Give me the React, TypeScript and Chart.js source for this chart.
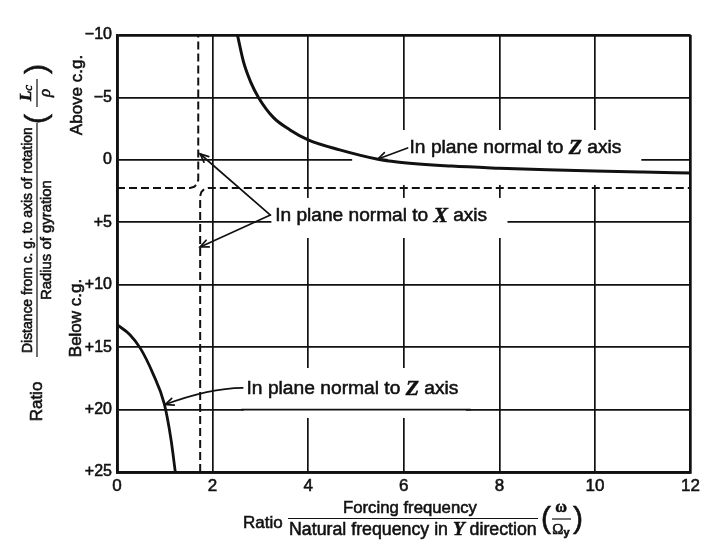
import React, { useEffect, useRef } from "react";
import { Chart, registerables } from "chart.js";

Chart.register(...registerables);

// ---------- data ----------
const xTicks = [0, 2, 4, 6, 8, 10, 12];
const yTicks = [-10, -5, 0, 5, 10, 15, 20, 25];
const yTickLabels = ["\u221210", "\u22125", "0", "+5", "+10", "+15", "+20", "+25"];

// In plane normal to Z axis (upper branch)
const zUpperX = [2.52, 2.65, 2.8, 2.96, 3.27, 3.62, 4.0, 4.66, 5.46, 5.86, 7.0, 8.0, 9.0, 10.0, 11.0, 12.0];
const zUpperY = [-10, -7.8, -6.2, -5.0, -3.4, -2.4, -1.6, -0.8, -0.05, 0.17, 0.5, 0.67, 0.8, 0.9, 0.98, 1.05];

// In plane normal to Z axis (lower branch)
const zLowerX = [0, 0.27, 0.49, 0.75, 0.99, 1.13, 1.22];
const zLowerY = [13.2, 14.0, 15.1, 17.1, 19.55, 22.4, 25];

// In plane normal to X axis (dashed, two branches)
const xLeftX = [0, 1.53, 1.615, 1.677, 1.7, 1.7];
const xLeftY = [2.25, 2.25, 2.16, 1.93, 1.6, -10];
const xRightX = [1.74, 1.74, 1.765, 1.825, 1.91, 12];
const xRightY = [25, 2.9, 2.575, 2.337, 2.25, 2.25];

// ---------- styling helpers ----------
const FONT = "'Liberation Sans', Arial, sans-serif";
const SERIF = "'Liberation Serif', 'Times New Roman', serif";
const INK = "#111";
const HEAVY = 0.55;

type Part = { t: string; size: number; style?: string; family?: string; dy?: number };

function fontOf(p: Part, s: number) {
  return `${p.style || ""} ${p.size * s}px ${p.family || FONT}`.trim();
}
function richWidth(ctx: CanvasRenderingContext2D, parts: Part[], s: number) {
  let w = 0;
  for (const p of parts) {
    ctx.font = fontOf(p, s);
    w += ctx.measureText(p.t).width;
  }
  return w;
}
function drawRich(
  ctx: CanvasRenderingContext2D,
  parts: Part[],
  x: number,
  y: number,
  target: number | null,
  align: "left" | "center" = "left"
) {
  const w0 = richWidth(ctx, parts, 1);
  const s = target ? target / w0 : 1;
  let cx = align === "center" ? x - (w0 * s) / 2 : x;
  ctx.textBaseline = "middle";
  ctx.textAlign = "left";
  ctx.lineWidth = HEAVY;
  for (const p of parts) {
    ctx.font = fontOf(p, s);
    ctx.fillText(p.t, cx, y + (p.dy || 0) * s);
    ctx.strokeText(p.t, cx, y + (p.dy || 0) * s);
    cx += ctx.measureText(p.t).width;
  }
}
function line(ctx: CanvasRenderingContext2D, x0: number, y0: number, x1: number, y1: number, w: number) {
  ctx.beginPath();
  ctx.lineWidth = w;
  ctx.moveTo(x0, y0);
  ctx.lineTo(x1, y1);
  ctx.stroke();
}
function arrow(
  ctx: CanvasRenderingContext2D,
  from: [number, number],
  to: [number, number],
  ctrl: [number, number] | null,
  w: number
) {
  ctx.beginPath();
  ctx.lineWidth = w;
  ctx.moveTo(from[0], from[1]);
  if (ctrl) ctx.quadraticCurveTo(ctrl[0], ctrl[1], to[0], to[1]);
  else ctx.lineTo(to[0], to[1]);
  ctx.stroke();
  const src = ctrl || from;
  const a = Math.atan2(to[1] - src[1], to[0] - src[0]);
  const L = 9;
  const sp = 0.42;
  ctx.beginPath();
  ctx.moveTo(to[0] - L * Math.cos(a - sp), to[1] - L * Math.sin(a - sp));
  ctx.lineTo(to[0], to[1]);
  ctx.lineTo(to[0] - L * Math.cos(a + sp), to[1] - L * Math.sin(a + sp));
  ctx.stroke();
}

const pts = (xs: number[], ys: number[]) => xs.map((x, i) => ({ x, y: ys[i] }));

const labelParts = (axis: string): Part[] => [
  { t: "In plane normal to ", size: 16 },
  { t: axis, size: 18, style: "italic bold", family: SERIF },
  { t: " axis", size: 16 },
];

const annotPlugin = {
  id: "annot",
  beforeDatasetsDraw(chart: any) {
    const { ctx } = chart;
    const sx = chart.scales.x;
    const sy = chart.scales.y;
    const box = (x0: number, x1: number, y0: number, y1: number) => {
      const a = sx.getPixelForValue(x0);
      const b = sx.getPixelForValue(x1);
      const c = sy.getPixelForValue(y0);
      const d = sy.getPixelForValue(y1);
      ctx.fillRect(Math.min(a, b), Math.min(c, d), Math.abs(b - a), Math.abs(d - c));
    };
    ctx.save();
    ctx.fillStyle = "#fff";
    box(4.92, 10.97, -2.39, 2.01);
    box(3.23, 8.17, 3.05, 6.26);
    box(2.65, 7.3, 16.67, 20.67);
    ctx.strokeStyle = INK;
    const y20 = sy.getPixelForValue(20);
    line(ctx, sx.getPixelForValue(2.6), y20, sx.getPixelForValue(7.4), y20, 1.7);
    ctx.restore();
  },
  afterDatasetsDraw(chart: any) {
    const { ctx } = chart;
    const sx = chart.scales.x;
    const sy = chart.scales.y;
    const P = (x: number, y: number): [number, number] => [sx.getPixelForValue(x), sy.getPixelForValue(y)];
    ctx.save();
    ctx.fillStyle = INK;
    ctx.strokeStyle = INK;
    ctx.lineCap = "round";
    // upper Z label
    arrow(ctx, P(6.08, -0.95), P(5.46, -0.07), null, 1.7);
    let p = P(6.12, -0.95);
    drawRich(ctx, labelParts("Z"), p[0], p[1], 212);
    // X label
    arrow(ctx, P(3.21, 4.42), P(1.74, -0.47), null, 1.7);
    arrow(ctx, P(3.21, 4.42), P(1.74, 6.98), null, 1.7);
    p = P(3.31, 4.5);
    drawRich(ctx, labelParts("X"), p[0], p[1], 212);
    // lower Z label
    arrow(ctx, P(2.63, 18.27), P(1.01, 19.6), P(1.93, 18.3), 1.7);
    p = P(2.71, 18.35);
    drawRich(ctx, labelParts("Z"), p[0], p[1], 212);
    ctx.restore();
  },
  afterDraw(chart: any) {
    const { ctx } = chart;
    ctx.save();
    ctx.fillStyle = INK;
    ctx.strokeStyle = INK;
    // ----- Y axis title (rotated) -----
    ctx.save();
    ctx.translate(37, 240);
    ctx.rotate(-Math.PI / 2);
    drawRich(ctx, [{ t: "Ratio", size: 17 }], -161.5, 0, null, "center");
    line(ctx, -117, 0, 117, 0, 1.2);
    drawRich(ctx, [{ t: "Distance from c. g. to axis of rotation", size: 13 }], 0, -9, 226, "center");
    drawRich(ctx, [{ t: "Radius of gyration", size: 13 }], 0, 10, 120, "center");
    // (Lc / rho)
    drawRich(ctx, [{ t: "(", size: 30 }], 116, 1, null, "left");
    drawRich(
      ctx,
      [
        { t: "L", size: 17, style: "italic bold", family: SERIF },
        { t: "c", size: 13, style: "italic", family: SERIF, dy: 2 },
      ],
      147,
      -10,
      null,
      "center"
    );
    line(ctx, 133, 0, 161, 0, 1.2);
    drawRich(ctx, [{ t: "\u03c1", size: 17, style: "italic", family: SERIF }], 147, 9, null, "center");
    drawRich(ctx, [{ t: ")", size: 30 }], 166, 1, null, "left");
    ctx.restore();
    // Above / Below c.g.
    ctx.save();
    ctx.translate(77, 95);
    ctx.rotate(-Math.PI / 2);
    drawRich(ctx, [{ t: "Above c.g.", size: 17 }], 0, 0, null, "center");
    ctx.restore();
    ctx.save();
    ctx.translate(76, 318);
    ctx.rotate(-Math.PI / 2);
    drawRich(ctx, [{ t: "Below c.g.", size: 17 }], 0, 0, null, "center");
    ctx.restore();
    // ----- X axis title -----
    drawRich(ctx, [{ t: "Ratio", size: 17 }], 243, 523, null, "left");
    line(ctx, 288, 518.5, 538, 518.5, 1.2);
    drawRich(ctx, [{ t: "Forcing frequency", size: 13 }], 410, 508, 134, "center");
    drawRich(
      ctx,
      [
        { t: "Natural frequency in ", size: 13 },
        { t: "Y", size: 14, style: "italic bold", family: SERIF },
        { t: " direction", size: 13 },
      ],
      413,
      530,
      248,
      "center"
    );
    drawRich(ctx, [{ t: "(", size: 30 }], 541, 520, null, "left");
    drawRich(ctx, [{ t: "\u03c9", size: 16, style: "bold", family: SERIF }], 561, 508, null, "center");
    line(ctx, 552, 519, 571, 519, 1.2);
    drawRich(
      ctx,
      [
        { t: "\u03a9", size: 15, family: SERIF },
        { t: "y", size: 11, style: "bold", dy: 3 },
      ],
      561,
      530,
      null,
      "center"
    );
    drawRich(ctx, [{ t: ")", size: 30 }], 573, 520, null, "left");
    ctx.restore();
  },
};

const edgeWidth = (edges: number[]) => (c: any) =>
  c.tick && edges.includes(c.tick.value) ? 2.7 : 1.7;

export default function App() {
  const ref = useRef<HTMLCanvasElement>(null);
  useEffect(() => {
    const canvas = ref.current!;
    const chart = new Chart(canvas, {
      type: "scatter",
      data: {
        datasets: [
          {
            data: pts(zUpperX, zUpperY),
            showLine: true,
            borderColor: INK,
            borderWidth: 3,
            pointRadius: 0,
            cubicInterpolationMode: "monotone",
          },
          {
            data: pts(zLowerX, zLowerY),
            showLine: true,
            borderColor: INK,
            borderWidth: 2.8,
            pointRadius: 0,
            cubicInterpolationMode: "monotone",
          },
          {
            data: pts(xLeftX, xLeftY),
            showLine: true,
            borderColor: INK,
            borderWidth: 2,
            borderDash: [8, 4],
            pointRadius: 0,
            tension: 0,
          },
          {
            data: pts(xRightX, xRightY),
            showLine: true,
            borderColor: INK,
            borderWidth: 2,
            borderDash: [8, 4],
            pointRadius: 0,
            tension: 0,
          },
        ],
      },
      options: {
        responsive: false,
        animation: false,
        devicePixelRatio: 1,
        layout: { padding: { top: 35, right: 7, left: 0, bottom: 0 } },
        plugins: { legend: { display: false }, tooltip: { enabled: false } },
        scales: {
          x: {
            type: "linear",
            min: 0,
            max: 12,
            afterBuildTicks: (s: any) => {
              s.ticks = xTicks.map((v) => ({ value: v }));
            },
            afterFit: (s: any) => {
              s.height = 71;
            },
            ticks: {
              color: INK,
              font: { family: FONT, size: 17 },
              padding: 4,
              maxRotation: 0,
              autoSkip: false,
              textStrokeColor: INK,
              textStrokeWidth: HEAVY,
            },
            grid: { color: INK, lineWidth: edgeWidth([0, 12]), drawTicks: false },
            border: { color: INK, width: 2.7 },
          },
          y: {
            type: "linear",
            min: -10,
            max: 25,
            reverse: true,
            afterBuildTicks: (s: any) => {
              s.ticks = yTicks.map((v) => ({ value: v }));
            },
            afterFit: (s: any) => {
              s.width = 117;
            },
            ticks: {
              color: INK,
              font: { family: FONT, size: 16 },
              padding: 5,
              autoSkip: false,
              textStrokeColor: INK,
              textStrokeWidth: HEAVY,
              callback: (v: any) => {
                const i = yTicks.indexOf(Number(v));
                return i >= 0 ? yTickLabels[i] : "";
              },
            },
            grid: { color: INK, lineWidth: edgeWidth([-10, 25]), drawTicks: false },
            border: { color: INK, width: 2.7 },
          },
        },
      },
      plugins: [annotPlugin],
    } as any);
    return () => chart.destroy();
  }, []);
  return (
    <div style={{ position: "fixed", left: 0, top: 0, width: 704, height: 543, background: "#fff" }}>
      <canvas ref={ref} width={704} height={543} style={{ display: "block", width: 704, height: 543 }} />
    </div>
  );
}
